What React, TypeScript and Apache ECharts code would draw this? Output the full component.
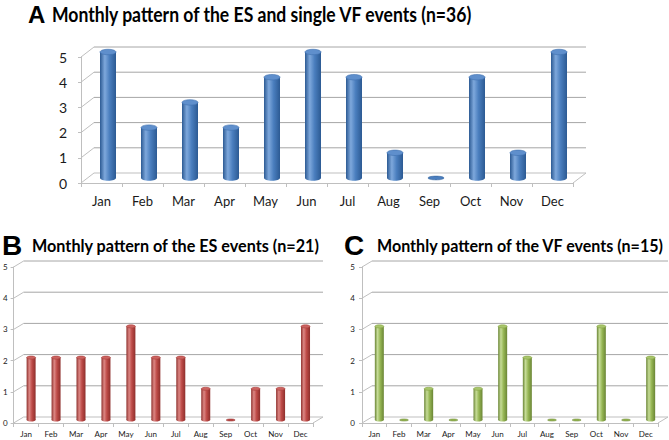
import React, { useEffect, useRef } from "react";
import * as echarts from "echarts";

const months = ["Jan", "Feb", "Mar", "Apr", "May", "Jun", "Jul", "Aug", "Sep", "Oct", "Nov", "Dec"];
const yTicks = [0, 1, 2, 3, 4, 5];
const seriesAll = [5, 2, 3, 2, 4, 5, 4, 1, 0, 4, 1, 5];
const seriesES = [2, 2, 2, 2, 3, 2, 2, 1, 0, 1, 1, 3];
const seriesVF = [3, 0, 1, 0, 1, 3, 2, 0, 0, 3, 0, 2];

const titleA = "Monthly pattern of the ES and single VF events (n=36)";
const titleB = "Monthly pattern of the ES events (n=21)";
const titleC = "Monthly pattern of the VF events (n=15)";

const palettes = {
  blue: { edge: "#2C5A93", mid: "#4A7EBE", hi: "#7EA8DC", top: "#5F8FCC", topEdge: "#3F70AE" },
  red: { edge: "#8E2F2C", mid: "#BE4B48", hi: "#DC8784", top: "#CC6461", topEdge: "#A9403D" },
  green: { edge: "#6A8535", mid: "#96B654", hi: "#C6DC97", top: "#A9C66C", topEdge: "#86A446" },
};

function measure(text: string, font: string): number {
  const c = document.createElement("canvas").getContext("2d");
  if (!c) return 1;
  c.font = font;
  return c.measureText(text).width || 1;
}

function frameRender(dx: number, dy: number) {
  return (params: any, api: any) => {
    const v = api.value(1);
    const cs = params.coordSys;
    const y = api.coord([0, v])[1];
    const children: any[] = [
      { type: "line", shape: { x1: cs.x, y1: y, x2: cs.x + dx, y2: y + dy }, style: { stroke: "#BFBFBF", lineWidth: 1 } },
      {
        type: "line",
        shape: { x1: cs.x + dx, y1: y + dy, x2: cs.x + cs.width + dx, y2: y + dy },
        style: { stroke: v === 0 ? "#BFBFBF" : "#A6A6A6", lineWidth: 1 },
      },
    ];
    if (v === 0) {
      children.push({
        type: "line",
        shape: { x1: cs.x + cs.width, y1: y, x2: cs.x + cs.width + dx, y2: y + dy },
        style: { stroke: "#BFBFBF", lineWidth: 1 },
      });
    }
    return { type: "group", children };
  };
}

function cylRender(dx: number, dy: number, w: number, pal: any) {
  return (params: any, api: any) => {
    const i = api.value(0);
    const v = api.value(1);
    const top = api.coord([i, v]);
    const base = api.coord([i, 0]);
    const cx = top[0] + dx / 2;
    const yt = top[1] + dy / 2;
    const yb = base[1] + dy / 2;
    const rx = w / 2;
    const ry = Math.max(1.5, w * 0.17);
    const bodyFill = {
      type: "linear", x: 0, y: 0, x2: 1, y2: 0,
      colorStops: [
        { offset: 0, color: pal.edge },
        { offset: 0.3, color: pal.hi },
        { offset: 0.6, color: pal.mid },
        { offset: 1, color: pal.edge },
      ],
    };
    if (v === 0) {
      return {
        type: "ellipse",
        shape: { cx, cy: yb, rx, ry: ry * 0.7 },
        style: { fill: pal.mid, stroke: pal.edge, lineWidth: 0.5 },
      };
    }
    return {
      type: "group",
      children: [
        { type: "ellipse", shape: { cx, cy: yb, rx, ry }, style: { fill: bodyFill } },
        { type: "rect", shape: { x: cx - rx, y: yt, width: w, height: yb - yt }, style: { fill: bodyFill } },
        { type: "ellipse", shape: { cx, cy: yt, rx, ry }, style: { fill: pal.top, stroke: pal.topEdge, lineWidth: 0.6 } },
      ],
    };
  };
}

export default function App() {
  const ref = useRef<HTMLDivElement>(null);
  useEffect(() => {
    document.body.style.margin = "0";
    const chart = echarts.init(ref.current!, null, { renderer: "svg" });

    const panels = [
      { left: 81, top: 57, width: 492, height: 126, dx: 13, dy: -10, w: 16, data: seriesAll, pal: palettes.blue, yFont: 14, xFont: 13, yMargin: 14, xMargin: 11, tickLen: 3 },
      { left: 13, top: 267, width: 300, height: 156, dx: 10, dy: -6, w: 9, data: seriesES, pal: palettes.red, yFont: 8, xFont: 8, yMargin: 6, xMargin: 7, tickLen: 3 },
      { left: 362, top: 267, width: 296, height: 156, dx: 10, dy: -6, w: 9, data: seriesVF, pal: palettes.green, yFont: 8, xFont: 8, yMargin: 7, xMargin: 7, tickLen: 3 },
    ];

    const grid: any[] = [];
    const xAxis: any[] = [];
    const yAxis: any[] = [];
    const series: any[] = [];
    panels.forEach((p, k) => {
      grid.push({ left: p.left, top: p.top, width: p.width, height: p.height });
      xAxis.push({
        type: "category", gridIndex: k, data: months, boundaryGap: true,
        axisLine: { show: true, lineStyle: { color: "#BFBFBF", width: 1 } },
        axisTick: { show: true, length: 4, lineStyle: { color: "#BFBFBF" } },
        axisLabel: { fontFamily: "Lato", fontSize: p.xFont, color: "#1a1a1a", margin: p.xMargin, interval: 0 },
        splitLine: { show: false },
      });
      yAxis.push({
        type: "value", gridIndex: k, min: 0, max: 5, interval: 1,
        axisLine: { show: true, lineStyle: { color: "#BFBFBF", width: 1 } },
        axisTick: { show: true, length: p.tickLen, lineStyle: { color: "#BFBFBF" } },
        axisLabel: { fontFamily: "Lato", fontSize: p.yFont, color: "#1a1a1a", margin: p.yMargin },
        splitLine: { show: false },
      });
      series.push({
        type: "custom", xAxisIndex: k, yAxisIndex: k, z: 1, silent: true,
        renderItem: frameRender(p.dx, p.dy),
        data: yTicks.map((v) => [0, v]),
      });
      series.push({
        type: "custom", xAxisIndex: k, yAxisIndex: k, z: 3, silent: true,
        renderItem: cylRender(p.dx, p.dy, p.w, p.pal),
        data: p.data.map((v, i) => [i, v]),
      });
    });

    const fontA = "bold 21px Lato";
    const fontBC = "bold 17px Lato";
    const sA = 421 / measure(titleA, fontA);
    const sB = 288 / measure(titleB, fontBC);
    const sC = 288 / measure(titleC, fontBC);

    chart.setOption({
      animation: false,
      backgroundColor: "#ffffff",
      grid, xAxis, yAxis, series,
      graphic: [
        { type: "text", x: 28, y: 14, style: { text: "A", font: "bold 24px 'Liberation Sans'", fill: "#000", textVerticalAlign: "middle" } },
        { type: "text", x: 52, y: 14, scaleX: sA, style: { text: titleA, font: fontA, fill: "#000", textVerticalAlign: "middle" } },
        { type: "text", x: 2, y: 245, style: { text: "B", font: "bold 28px 'Liberation Sans'", fill: "#000", textVerticalAlign: "middle" } },
        { type: "text", x: 32, y: 246, scaleX: sB, style: { text: titleB, font: fontBC, fill: "#000", textVerticalAlign: "middle" } },
        { type: "text", x: 344, y: 245, style: { text: "C", font: "bold 28px 'Liberation Sans'", fill: "#000", textVerticalAlign: "middle" } },
        { type: "text", x: 377, y: 246, scaleX: sC, style: { text: titleC, font: fontBC, fill: "#000", textVerticalAlign: "middle" } },
      ],
    });
    return () => chart.dispose();
  }, []);
  return <div ref={ref} style={{ width: 669, height: 440 }} />;
}
